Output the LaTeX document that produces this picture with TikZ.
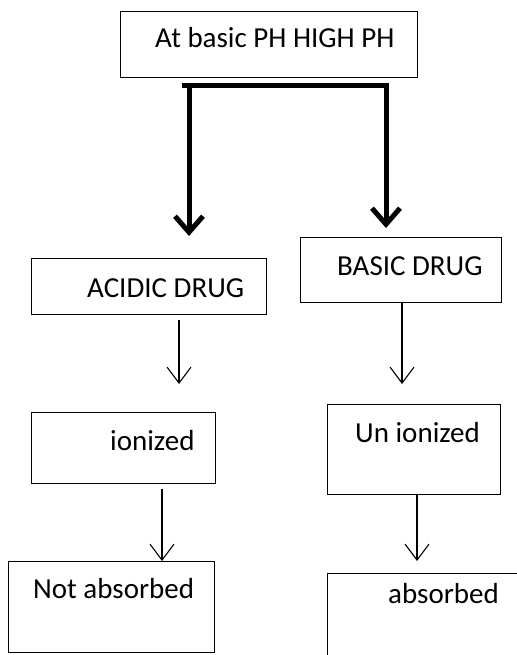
\documentclass[tikz,border=0pt]{standalone}
\usepackage{fontspec}
\setmainfont{Carlito}
\usetikzlibrary{arrows.meta}
\begin{document}
\begin{tikzpicture}[x=1pt,y=-1pt,
  box/.style={draw=black,line width=1pt,inner sep=0pt,fill=white},
  lbl/.style={anchor=base west,inner sep=0pt,font=\fontsize{29}{34}\selectfont},
  thinarr/.style={line width=1.1pt,-{Straight Barb[length=16pt,width=24pt,line width=1.1pt]}},
  thickarr/.style={line width=5pt,line join=miter,-{Straight Barb[length=16pt,width=28pt,line width=5pt]}}]
\useasboundingbox (0,0) rectangle (516,655);
% boxes
\node[box,minimum width=297pt,minimum height=66pt] (top) at (268.5,44.5) {};
\node[box,minimum width=235pt,minimum height=56pt] (acid) at (148.5,286) {};
\node[box,minimum width=201pt,minimum height=65pt] (base) at (401.2,269.5) {};
\node[box,minimum width=184pt,minimum height=71pt] (ion) at (123,447.5) {};
\node[box,minimum width=173pt,minimum height=90pt] (union) at (413.5,449) {};
\node[box,minimum width=206pt,minimum height=91pt] (notabs) at (111,606.5) {};
\node[box,minimum width=210pt,minimum height=100pt] (abs) at (432,623) {};
% texts
\node[lbl] (ttop) at (155,48) {At basic PH HIGH PH};
\node[lbl] (tacid) at (87,297) {ACIDIC DRUG};
\node[lbl] (tbase) at (337,275) {BASIC DRUG};
\node[lbl] (tion) at (110,450) {ionized};
\node[lbl] (tunion) at (355,442) {Un ionized};
\node[lbl] (tnotabs) at (33,598) {Not absorbed};
\node[lbl] (tabs) at (388,603) {absorbed};
% thick fork
\coordinate (fl) at (182,86);
\coordinate (fv) at (189,86);
\coordinate (fr) at (386,86);
\coordinate (tipL) at (189,236);
\coordinate (tipR) at (386,228);
\draw[line width=5pt] (fl) -- (fv);
\draw[thickarr] (fv) -- (tipL);
\draw[thickarr] (fv) -- (fr) -- (tipR);
% thin arrows
\coordinate (a1) at (179,320);
\coordinate (a1e) at (179,384);
\draw[thinarr] (a1) -- (a1e);
\draw[thinarr] (base.south -| 402,0) -- (402,384);
\draw[thinarr] (ion.south -| 162,0) ++(0,5) -- (162,561);
\draw[thinarr] (union.south -| 417,0) -- (417,561);
\end{tikzpicture}
\end{document}
